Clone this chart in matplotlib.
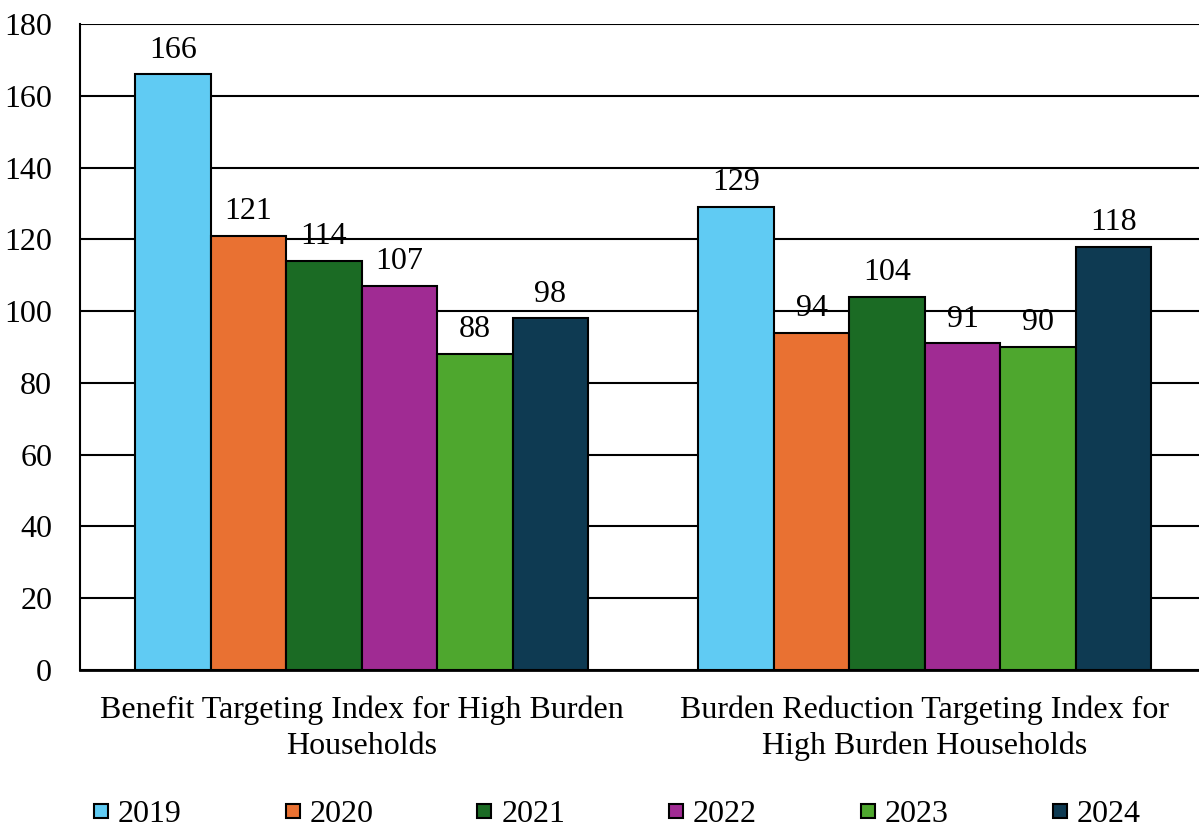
import matplotlib
matplotlib.use("Agg")
import matplotlib.pyplot as plt
import numpy as np
from matplotlib.lines import Line2D

plt.rcParams['font.family'] = ['Liberation Serif', 'DejaVu Serif']

categories = ["Benefit Targeting Index for High Burden\nHouseholds",
              "Burden Reduction Targeting Index for\nHigh Burden Households"]
years = ["2019", "2020", "2021", "2022", "2023", "2024"]
values_2019 = [166, 129]
values_2020 = [121, 94]
values_2021 = [114, 104]
values_2022 = [107, 91]
values_2023 = [88, 90]
values_2024 = [98, 118]
series = [values_2019, values_2020, values_2021, values_2022, values_2023, values_2024]
colors = ["#60CBF3", "#E97132", "#1B6B24", "#A02B93", "#4EA72E", "#0E3A52"]
yticks = [0, 20, 40, 60, 80, 100, 120, 140, 160, 180]

FS = 23
W, H = 1199, 830
fig = plt.figure(figsize=(W/100, H/100), dpi=100)
left, right, top, bottom = 80, 1206.5, 24, 670
ax = fig.add_axes([left/W, 1 - bottom/H, (right-left)/W, (bottom-top)/H])

x = np.arange(len(categories))
n = len(series)
bw = 0.134
for i, (vals, c) in enumerate(zip(series, colors)):
    pos = x + (i - (n-1)/2) * bw
    ax.bar(pos, vals, width=bw, color=c, edgecolor='black', linewidth=1.5, zorder=3)
    for p, v in zip(pos, vals):
        ax.annotate(str(v), (p, v), xytext=(0, 7), textcoords='offset points',
                    ha='center', va='bottom', fontsize=FS)

ax.set_xlim(-0.5, 1.5)
ax.set_ylim(0, 180)
ax.set_yticks(yticks)
ax.yaxis.grid(True, color='black', linewidth=1.5, zorder=0)
ax.set_axisbelow(True)
ax.set_xticks(x)
ax.set_xticklabels(categories, fontsize=FS, linespacing=1.32)
ax.tick_params(axis='both', length=0, labelsize=FS)
ax.tick_params(axis='y', pad=20)
ax.tick_params(axis='x', pad=18)
for s in ['top', 'right']:
    ax.spines[s].set_visible(False)
ax.spines['left'].set_linewidth(1.5)
ax.spines['bottom'].set_linewidth(2)

handles = [Line2D([0], [0], marker='s', linestyle='none', markersize=10.5,
                  markerfacecolor=c, markeredgecolor='black', markeredgewidth=1.5)
           for c in colors]
fig.legend(handles, years, loc='center', bbox_to_anchor=(0.514, 1 - 814/H), ncol=6,
           frameon=False, fontsize=FS, handlelength=0.55, handletextpad=0.25,
           columnspacing=3.2)

fig.savefig("out.png", dpi=100)
